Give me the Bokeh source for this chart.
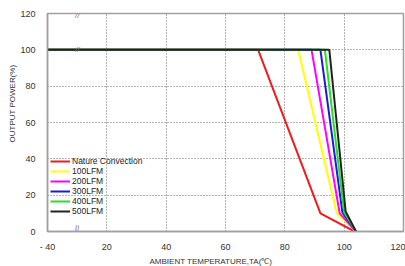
import math
from bokeh.plotting import figure
from bokeh.models import Range1d, FixedTicker, Label, Legend, LegendItem, Title
from bokeh.embed import file_html
from bokeh.resources import INLINE

# ---- data (temperature in deg C, output power in %) ----
series_names = ["Nature Convection", "100LFM", "200LFM", "300LFM", "400LFM", "500LFM"]
series_colors = ["#ee1c1c", "#ffff00", "#ff00ff", "#1a1ad8", "#22e022", "#222222"]

nature_t = [-40, 71, 92, 103.5]
nature_p = [100, 100, 10, 0]
lfm100_t = [-40, 84.5, 97.5, 104]
lfm100_p = [100, 100, 10, 0]
lfm200_t = [-40, 89, 98.5, 104]
lfm200_p = [100, 100, 10, 0]
lfm300_t = [-40, 92, 99.4, 104]
lfm300_p = [100, 100, 10.5, 0]
lfm400_t = [-40, 93.5, 100, 104]
lfm400_p = [100, 100, 10.5, 0]
lfm500_t = [-40, 95, 100.5, 104]
lfm500_p = [100, 100, 11, 0]

x_tick_values = [-40, 20, 40, 60, 80, 100, 120]
y_tick_values = [0, 20, 40, 60, 80, 100, 120]
grid_x_values = [20, 40, 60, 80, 100]
grid_y_values = [20, 40, 60, 80, 100]


def brk(t):
    # broken axis: -40..20 is compressed into one 20-degree step
    return t if t >= 20 else 20 - (20 - t) * (20.0 / 60.0)


series_t = [nature_t, lfm100_t, lfm200_t, lfm300_t, lfm400_t, lfm500_t]
series_p = [nature_p, lfm100_p, lfm200_p, lfm300_p, lfm400_p, lfm500_p]

p = figure(width=405, height=266, output_backend="svg", toolbar_location=None,
           x_range=Range1d(brk(-40), 120), y_range=Range1d(0, 120))
p.min_border_left = 47
p.min_border_right = 2
p.min_border_top = 13
p.min_border_bottom = 35
p.background_fill_color = "white"
p.border_fill_color = "white"
p.outline_line_color = "#a0a0a0"
p.outline_line_width = 1.5

font = "Liberation Sans"

for ax in (p.xaxis[0], p.yaxis[0]):
    ax.major_tick_line_color = None
    ax.minor_tick_line_color = None
    ax.axis_line_color = "#a0a0a0"
    ax.axis_line_width = 1.5
    ax.major_label_text_font = font
    ax.major_label_text_font_size = "9px"
    ax.major_label_text_color = "#333333"

p.xaxis.ticker = FixedTicker(ticks=[brk(v) for v in x_tick_values])
p.xaxis.major_label_overrides = {brk(v): ("- 40" if v < 0 else str(v)) for v in x_tick_values}
p.xaxis.major_label_standoff = 4
p.yaxis.ticker = FixedTicker(ticks=y_tick_values)
p.yaxis.major_label_standoff = 6

p.xgrid.ticker = FixedTicker(ticks=[brk(v) for v in grid_x_values])
p.ygrid.ticker = FixedTicker(ticks=grid_y_values)
for g in (p.xgrid[0], p.ygrid[0]):
    g.grid_line_color = "#666666"
    g.grid_line_dash = "1 2"
    g.grid_line_width = 1

items = []
for name, col, ts, ps in zip(series_names, series_colors, series_t, series_p):
    r = p.line([brk(t) for t in ts], ps, line_color=col, line_width=2)
    items.append(LegendItem(label=name, renderers=[r]))

legend = Legend(items=items, location=(3, 15))
legend.background_fill_alpha = 0
legend.border_line_color = None
legend.padding = 0
legend.margin = 0
legend.spacing = 0
legend.glyph_width = 20
legend.glyph_height = 10
legend.label_height = 10
legend.label_standoff = 2
legend.label_text_font = font
legend.label_text_font_size = "8.5px"
legend.label_text_color = "#222222"
p.add_layout(legend)

# axis titles (placed off-centre, as in the original)
xt = Title(text="AMBIENT TEMPERATURE,TA(\u2103)", align="left", offset=102,
           text_font=font, text_font_size="8px", text_color="#333333",
           text_font_style="normal", standoff=0)
p.add_layout(xt, "below")
yt = Title(text="OUTPUT POWER(%)", align="left", offset=89,
           text_font=font, text_font_size="8px", text_color="#333333",
           text_font_style="normal", standoff=2)
p.add_layout(yt, "left")

# axis-break marks
for yv in (119, 100):
    p.add_layout(Label(x=10, y=yv, text="//", text_font=font, text_font_size="8px",
                       text_font_style="italic", text_color="#777777",
                       text_align="center", text_baseline="middle"))
p.add_layout(Label(x=10, y=2, text="\u2248", text_font=font, text_font_size="12px",
                   text_color="#888888", text_align="center", text_baseline="middle",
                   angle=math.pi / 2))

open("out.html", "w").write(file_html(p, INLINE))
